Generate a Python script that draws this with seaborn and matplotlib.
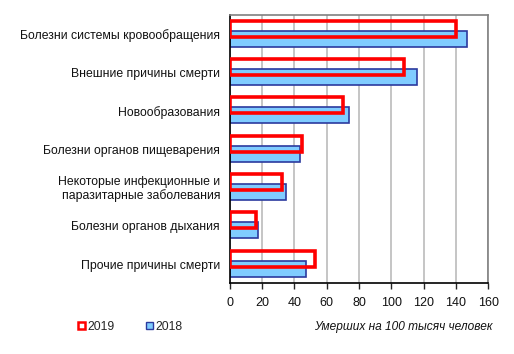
import numpy as np
import pandas as pd
import matplotlib
matplotlib.use("Agg")
from matplotlib import pyplot as plt
from matplotlib.patches import Patch
import seaborn as sns

categories = ["Болезни системы кровообращения",
              "Внешние причины смерти",
              "Новообразования",
              "Болезни органов пищеварения",
              "Некоторые инфекционные и\nпаразитарные заболевания",
              "Болезни органов дыхания",
              "Прочие причины смерти"]
values_2019 = [140, 108, 70, 44.5, 32.5, 16.5, 52.5]
values_2018 = [147, 116, 73.5, 43.5, 34.5, 17.5, 47]
xticks = [0, 20, 40, 60, 80, 100, 120, 140, 160]

sns.set_style("white")
plt.rcParams["font.family"] = ["Liberation Sans", "DejaVu Sans"]
plt.rcParams["font.size"] = 8.8

pos = np.arange(len(categories))
df18 = pd.DataFrame({"val": values_2018, "pos": pos + 0.12})
df19 = pd.DataFrame({"val": values_2019, "pos": pos - 0.14})

fig, ax = plt.subplots(figsize=(5.14, 3.54), dpi=100)
fig.subplots_adjust(left=0.447, right=0.950, top=0.958, bottom=0.200)

ax.grid(axis="x", color="#c0c0c0", linewidth=1.3, zorder=0)
ax.set_axisbelow(True)

sns.barplot(data=df18, x="val", y="pos", orient="h", native_scale=True,
            width=0.42, color="#80ccff", edgecolor="#2b3a9e", linewidth=1.2,
            saturation=1, ax=ax, zorder=2)
sns.barplot(data=df19, x="val", y="pos", orient="h", native_scale=True,
            width=0.42, fill=False, edgecolor="#ff0000", linewidth=2.6,
            color="#ff0000", ax=ax, zorder=3)

ax.set_xlim(0, 160)
ax.set_ylim(len(categories) - 0.5, -0.5)
ax.set_xticks(xticks)
ax.set_xticklabels([str(t) for t in xticks], color="#111111", fontsize=9)
ax.set_yticks(pos)
ax.set_yticklabels(categories, color="#111111", linespacing=1.05)
ax.tick_params(axis="x", length=4, width=1, direction="out", bottom=True, pad=6)
ax.tick_params(axis="y", length=0, pad=7)
ax.set_xlabel("")
ax.set_ylabel("")

for s in ["top", "right"]:
    ax.spines[s].set_color("#808080")
    ax.spines[s].set_linewidth(1.2)
for s in ["left", "bottom"]:
    ax.spines[s].set_color("black")
    ax.spines[s].set_linewidth(1.2)

handles = [Patch(facecolor="white", edgecolor="#ff0000", linewidth=1.8),
           Patch(facecolor="#80ccff", edgecolor="#2b3a9e", linewidth=1)]
fig.legend(handles, ["2019", "2018"], loc="center left",
           bbox_to_anchor=(0.152, 0.077), ncol=2, frameon=False,
           handlelength=0.55, handleheight=0.55, handletextpad=0.2,
           columnspacing=2.6, fontsize=8.8, borderpad=0, borderaxespad=0)

fig.text(0.959, 0.075, "Умерших на 100 тысяч человек", ha="right", va="center",
         style="italic", fontsize=8.6, color="#111111")

fig.savefig("out.png", dpi=100)
